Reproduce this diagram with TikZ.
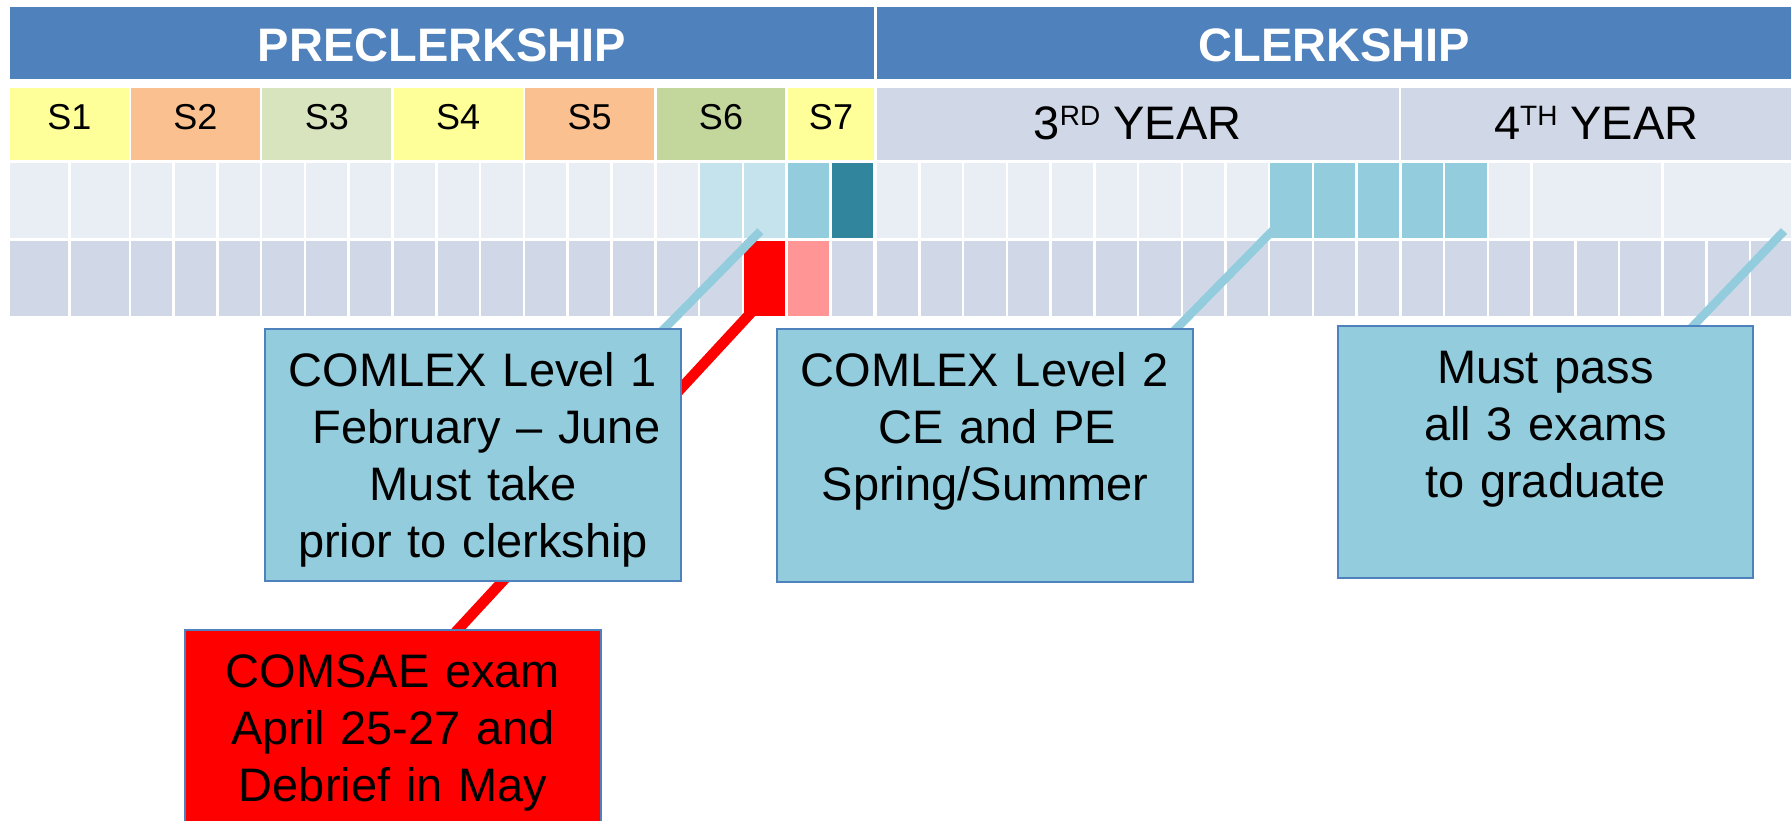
\documentclass[tikz,border=0pt]{standalone}
\usepackage{fontspec}
\setmainfont{Liberation Sans}
\definecolor{hdr}{HTML}{4F81BD}
\definecolor{syel}{HTML}{FFFF99}
\definecolor{sora}{HTML}{FAC090}
\definecolor{sgrn}{HTML}{D7E4BD}
\definecolor{sgrnb}{HTML}{C3D69B}
\definecolor{yrbg}{HTML}{D0D8E8}
\definecolor{rowa}{HTML}{E9EDF4}
\definecolor{rowb}{HTML}{D0D8E8}
\definecolor{lblue}{HTML}{C5E3EC}
\definecolor{mblue}{HTML}{93CDDD}
\definecolor{dteal}{HTML}{31859C}
\definecolor{pinkc}{HTML}{FF9595}
\begin{document}
\begin{tikzpicture}[x=1pt,y=-1pt,
  cell/.style={inner sep=0pt, outer sep=0pt, anchor=north west, minimum height=75.3pt},
  band/.style={inner sep=0pt, outer sep=0pt, anchor=north west, text height=54.7pt, text depth=17.3pt,
     fill=hdr, text=white, font=\fontsize{47}{56}\selectfont\bfseries},
  sem/.style={inner sep=0pt, outer sep=0pt, anchor=north west, text height=42pt, text depth=30pt,
     font=\fontsize{36}{40}\selectfont},
  yearcell/.style={inner sep=0pt, outer sep=0pt, anchor=north west, text height=52pt, text depth=20pt,
     fill=yrbg, font=\fontsize{47}{56}\selectfont},
  infobox/.style={inner sep=0pt, outer sep=0pt, anchor=north west, draw=hdr, line width=2pt,
     align=center, text height=57pt, font=\fontsize{47}{57}\selectfont},
  blueline/.style={draw=mblue, line width=8.5pt},
  redline/.style={draw=red, line width=10.5pt}]
\useasboundingbox (0,0) rectangle (1791,821);
\clip (0,0) rectangle (1791,821);
\fill[white] (0,0) rectangle (1791,821);

% header bands
\node[band, minimum width=864pt] (pre) at (10,7.3) {PRECLERKSHIP};
\node[band, minimum width=915pt] (clk) at (876.7,7.3) {CLERKSHIP};

% semester row
\node[sem, fill=syel, minimum width=119pt] (s1) at (10,88) {S1};
\node[sem, fill=sora, minimum width=128.8pt] (s2) at (131,88) {S2};
\node[sem, fill=sgrn, minimum width=128.8pt] (s3) at (262.4,88) {S3};
\node[sem, fill=syel, minimum width=128.8pt] (s4) at (393.8,88) {S4};
\node[sem, fill=sora, minimum width=128.8pt] (s5) at (525.2,88) {S5};
\node[sem, fill=sgrnb, minimum width=128.8pt] (s6) at (656.6,88) {S6};
\node[sem, fill=syel, minimum width=86pt] (s7) at (788,88) {S7};
\node[yearcell, minimum width=521.8pt] (y3) at (876.7,88)
  {3\raisebox{14pt}{\fontsize{28}{30}\selectfont RD} YEAR};
\node[yearcell, minimum width=390pt] (y4) at (1401.3,88)
  {4\raisebox{14pt}{\fontsize{28}{30}\selectfont TH} YEAR};

% preclerkship grid: S1 columns
\node[cell, fill=rowa, minimum width=58pt] (pam2) at (10,162.7) {};
\node[cell, fill=rowa, minimum width=58.3pt] (pam1) at (70.7,162.7) {};
\node[cell, fill=rowb, minimum width=58pt] (pbm2) at (10,240.7) {};
\node[cell, fill=rowb, minimum width=58.3pt] (pbm1) at (70.7,240.7) {};
% preclerkship grid: other columns
\foreach \j/\ca/\cb in {0/rowa/rowb,1/rowa/rowb,2/rowa/rowb,3/rowa/rowb,4/rowa/rowb,
   5/rowa/rowb,6/rowa/rowb,7/rowa/rowb,8/rowa/rowb,9/rowa/rowb,10/rowa/rowb,11/rowa/rowb,
   12/rowa/rowb,13/lblue/rowb,14/lblue/red,15/mblue/pinkc,16/dteal/rowb}{
  \pgfmathsetmacro\xx{131+43.8*\j}
  \node[cell, fill=\ca, minimum width=41.2pt] (pa\j) at (\xx,162.7) {};
  \node[cell, fill=\cb, minimum width=41.2pt] (pb\j) at (\xx,240.7) {};
}
% clerkship grid
\foreach \k/\ca in {0/rowa,1/rowa,2/rowa,3/rowa,4/rowa,5/rowa,6/rowa,7/rowa,8/rowa,
   9/mblue,10/mblue,11/mblue,12/mblue,13/mblue,14/rowa}{
  \pgfmathsetmacro\xx{877+43.72*\k}
  \node[cell, fill=\ca, minimum width=41.2pt] (ca\k) at (\xx,162.7) {};
}
\node[cell, fill=rowa, minimum width=128.6pt] (ca15) at (1532.8,162.7) {};
\node[cell, fill=rowa, minimum width=130pt] (ca18) at (1664,162.7) {};
\foreach \k in {0,...,20}{
  \pgfmathsetmacro\xx{877+43.72*\k}
  \node[cell, fill=rowb, minimum width=41.2pt] (cb\k) at (\xx,240.7) {};
}

% connector end points
\coordinate (r1) at (760,303);
\coordinate (r2) at (452,636);
\coordinate (b1a) at (760.3,231.2);
\coordinate (b1b) at (662,331);
\coordinate (b2a) at (1276,227.2);
\coordinate (b2b) at (1174,331);
\coordinate (b3a) at (1784,231);
\coordinate (b3b) at (1687.3,332);

\draw[redline] (r1) -- (r2);
\draw[blueline] (b1a) -- (b1b);
\draw[blueline] (b2a) -- (b2b);
\draw[blueline] (b3a) -- (b3b);

% callout boxes
\node[infobox, fill=mblue, text width=416pt, text depth=195pt] (box1) at (265,329)
  {COMLEX Level 1\\\hspace*{27pt}February – June\\Must take\\prior to clerkship};
\node[infobox, fill=mblue, text width=416pt, text depth=196pt] (box2) at (777,329)
  {COMLEX Level 2\\\hspace*{25pt}CE and PE\\Spring/Summer};
\node[infobox, fill=mblue, text width=415pt, text depth=195pt] (box3) at (1338,326)
  {Must pass\\all 3 exams\\to graduate};
\node[infobox, fill=red, text width=416pt, text depth=193pt] (box4) at (185,630)
  {COMSAE exam\\April 25-27 and\\Debrief in May};
\end{tikzpicture}
\end{document}
